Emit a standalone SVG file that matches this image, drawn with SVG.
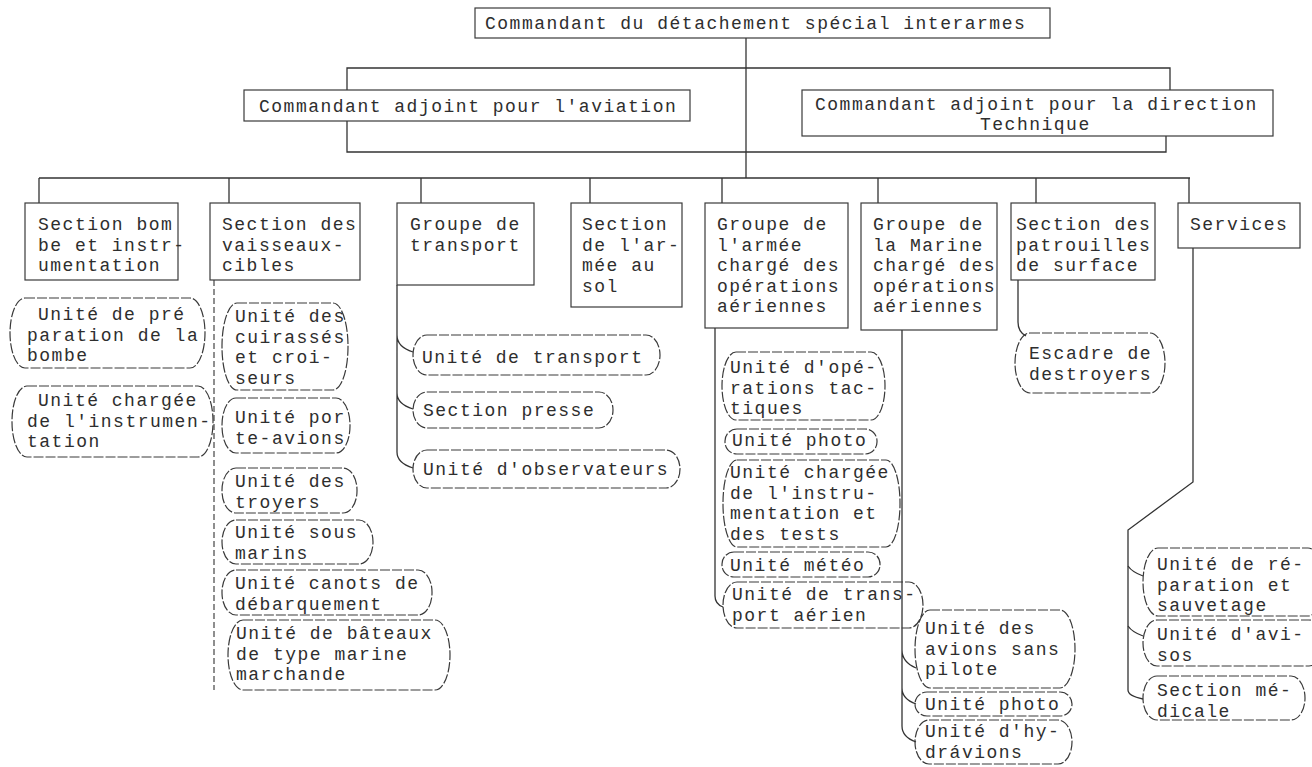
<svg xmlns="http://www.w3.org/2000/svg" width="1312" height="767" viewBox="0 0 1312 767">
  <style>
    .t { font-family: "Liberation Mono", "DejaVu Sans Mono", monospace; font-size: 18px; letter-spacing: 1.5px; fill: #2e2e2e; }
    .box { fill: none; stroke: #3a3a3a; stroke-width: 1.2; }
    .rbox { fill: none; stroke: #3a3a3a; stroke-width: 1.2; stroke-dasharray: 10 2; }
    .ln { fill: none; stroke: #333; stroke-width: 1.3; }
    .dash { fill: none; stroke: #444; stroke-width: 1.2; stroke-dasharray: 6 3; }
  </style>
  <rect width="1312" height="767" fill="#ffffff"/>

  <!-- connectors -->
  <g id="connectors">
    <path class="ln" d="M746,38 V178"/>
    <path class="ln" d="M347,90 V68 H1170 V90"/>
    <path class="ln" d="M347,121 V152 H1166 V136"/>
    <path class="ln" d="M39,178 H1190"/>
    <path class="ln" d="M39,178 V203 M229,178 V203 M421,178 V203 M590,178 V203 M722,178 V203 M878,178 V203 M1036,178 V203 M1189,178 V203"/>
    <!-- section des vaisseaux-cibles -->
    <path class="dash" d="M214,280 V690"/>
    <!-- groupe de transport -->
    <path class="ln" d="M397,285 V335 Q397,347 413,352 M397,335 V393 Q397,404 413,409 M397,393 V452 Q397,463 413,468"/>
    <!-- groupe de l'armée -->
    <path class="ln" d="M715,328 V596 Q715,604 723,607"/>
    <!-- groupe de la Marine -->
    <path class="ln" d="M902,330 V650 Q902,662 916,668 M902,650 V688 Q902,699 916,704 M902,688 V726 Q902,737 916,742"/>
    <!-- section des patrouilles -->
    <path class="ln" d="M1018,280 V322 Q1018,332 1026,336"/>
    <!-- services -->
    <path class="ln" d="M1193,248 V482 L1128,530 V690 Q1128,696 1143,699"/>
    <path class="ln" d="M1128,566 Q1132,572 1143,576 M1128,626 Q1132,632 1143,636"/>
  </g>

  <g id="n-top">
    <rect class="box" x="475" y="8" width="575" height="30"/>
    <text class="t" x="485" y="29">Commandant du détachement spécial interarmes</text>
  </g>
  <g id="n-aviation">
    <rect class="box" x="244" y="90" width="446" height="31"/>
    <text class="t" x="259" y="112">Commandant adjoint pour l'aviation</text>
  </g>
  <g id="n-technique">
    <rect class="box" x="802" y="90" width="471" height="46"/>
    <text class="t" x="815" y="110">Commandant adjoint pour la direction</text>
    <text class="t" x="980" y="130">Technique</text>
  </g>

  <g id="h-bombe">
    <rect class="box" x="25" y="203" width="153" height="77"/>
    <text class="t" x="38" y="230">Section bom</text>
    <text class="t" x="38" y="250.5">be et instr-</text>
    <text class="t" x="38" y="271">umentation</text>
  </g>
  <g id="h-vaisseaux">
    <rect class="box" x="210" y="203" width="150" height="77"/>
    <text class="t" x="222" y="230">Section des</text>
    <text class="t" x="222" y="250.5">vaisseaux-</text>
    <text class="t" x="222" y="271">cibles</text>
  </g>
  <g id="h-transport">
    <rect class="box" x="397" y="203" width="137" height="82"/>
    <text class="t" x="410" y="230">Groupe de</text>
    <text class="t" x="410" y="250.5">transport</text>
  </g>
  <g id="h-armee-sol">
    <rect class="box" x="571" y="203" width="111" height="104"/>
    <text class="t" x="582" y="230">Section</text>
    <text class="t" x="582" y="250.5">de l'ar-</text>
    <text class="t" x="582" y="271">mée au</text>
    <text class="t" x="582" y="291.5">sol</text>
  </g>
  <g id="h-armee-air">
    <rect class="box" x="705" y="203" width="143" height="125"/>
    <text class="t" x="717" y="230">Groupe de</text>
    <text class="t" x="717" y="250.5">l'armée</text>
    <text class="t" x="717" y="271">chargé des</text>
    <text class="t" x="717" y="291.5">opérations</text>
    <text class="t" x="717" y="312">aériennes</text>
  </g>
  <g id="h-marine">
    <rect class="box" x="861" y="203" width="136" height="127"/>
    <text class="t" x="873" y="230">Groupe de</text>
    <text class="t" x="873" y="250.5">la Marine</text>
    <text class="t" x="873" y="271">chargé des</text>
    <text class="t" x="873" y="291.5">opérations</text>
    <text class="t" x="873" y="312">aériennes</text>
  </g>
  <g id="h-patrouilles">
    <rect class="box" x="1011" y="203" width="144" height="77"/>
    <text class="t" x="1016" y="230">Section des</text>
    <text class="t" x="1016" y="250.5">patrouilles</text>
    <text class="t" x="1016" y="271">de surface</text>
  </g>
  <g id="h-services">
    <rect class="box" x="1178" y="203" width="122" height="45"/>
    <text class="t" x="1190" y="230">Services</text>
  </g>

  <g id="u-preparation">
    <rect class="rbox" x="10" y="298" width="195" height="70" rx="15" ry="35"/>
    <text class="t" x="38" y="320">Unité de pré</text>
    <text class="t" x="27" y="340.5">paration de la</text>
    <text class="t" x="27" y="361">bombe</text>
  </g>
  <g id="u-instrumentation">
    <rect class="rbox" x="12" y="386" width="201" height="71" rx="15" ry="35"/>
    <text class="t" x="38" y="406">Unité chargée</text>
    <text class="t" x="27" y="426.5">de l'instrumen-</text>
    <text class="t" x="27" y="447">tation</text>
  </g>

  <g id="u-cuirasses">
    <rect class="rbox" x="222" y="303" width="126" height="87" rx="15" ry="43"/>
    <text class="t" x="235" y="322">Unité des</text>
    <text class="t" x="235" y="342.5">cuirassés</text>
    <text class="t" x="235" y="363">et croi-</text>
    <text class="t" x="235" y="383.5">seurs</text>
  </g>
  <g id="u-porte-avions">
    <rect class="rbox" x="222" y="398" width="128" height="55" rx="14" ry="27"/>
    <text class="t" x="235" y="423">Unité por</text>
    <text class="t" x="235" y="443.5">te-avions</text>
  </g>
  <g id="u-destroyers">
    <rect class="rbox" x="222" y="468" width="135" height="45" rx="14" ry="22"/>
    <text class="t" x="235" y="487">Unité des</text>
    <text class="t" x="235" y="507.5">troyers</text>
  </g>
  <g id="u-sous-marins">
    <rect class="rbox" x="222" y="520" width="151" height="44" rx="14" ry="22"/>
    <text class="t" x="235" y="538">Unité sous</text>
    <text class="t" x="235" y="558.5">marins</text>
  </g>
  <g id="u-canots">
    <rect class="rbox" x="222" y="570" width="210" height="45" rx="14" ry="22"/>
    <text class="t" x="235" y="589">Unité canots de</text>
    <text class="t" x="235" y="609.5">débarquement</text>
  </g>
  <g id="u-bateaux">
    <rect class="rbox" x="228" y="620" width="222" height="70" rx="15" ry="35"/>
    <text class="t" x="236" y="639">Unité de bâteaux</text>
    <text class="t" x="236" y="659.5">de type marine</text>
    <text class="t" x="236" y="680">marchande</text>
  </g>

  <g id="u-transport">
    <rect class="rbox" x="413" y="335" width="247" height="40" rx="14" ry="20"/>
    <text class="t" x="422" y="363">Unité de transport</text>
  </g>
  <g id="u-presse">
    <rect class="rbox" x="413" y="392" width="200" height="36" rx="14" ry="18"/>
    <text class="t" x="423" y="416">Section presse</text>
  </g>
  <g id="u-observateurs">
    <rect class="rbox" x="413" y="450" width="267" height="38" rx="14" ry="19"/>
    <text class="t" x="423" y="475">Unité d'observateurs</text>
  </g>

  <g id="u-operations">
    <rect class="rbox" x="722" y="352" width="163" height="68" rx="14" ry="34"/>
    <text class="t" x="730" y="373">Unité d'opé-</text>
    <text class="t" x="730" y="393.5">rations tac-</text>
    <text class="t" x="730" y="414">tiques</text>
  </g>
  <g id="u-photo-armee">
    <rect class="rbox" x="725" y="429" width="152" height="25" rx="12" ry="12"/>
    <text class="t" x="732" y="446">Unité photo</text>
  </g>
  <g id="u-tests">
    <rect class="rbox" x="723" y="460" width="177" height="87" rx="14" ry="43"/>
    <text class="t" x="730" y="478">Unité chargée</text>
    <text class="t" x="730" y="498.5">de l'instru-</text>
    <text class="t" x="730" y="519">mentation et</text>
    <text class="t" x="730" y="539.5">des tests</text>
  </g>
  <g id="u-meteo">
    <rect class="rbox" x="722" y="552" width="158" height="25" rx="12" ry="12"/>
    <text class="t" x="730" y="571">Unité météo</text>
  </g>
  <g id="u-transport-aerien">
    <rect class="rbox" x="723" y="582" width="200" height="46" rx="14" ry="23"/>
    <text class="t" x="732" y="600">Unité de trans-</text>
    <text class="t" x="732" y="620.5">port aérien</text>
  </g>

  <g id="u-sans-pilote">
    <rect class="rbox" x="915" y="610" width="160" height="78" rx="15" ry="39"/>
    <text class="t" x="925" y="634">Unité des</text>
    <text class="t" x="925" y="654.5">avions sans</text>
    <text class="t" x="925" y="675">pilote</text>
  </g>
  <g id="u-photo-marine">
    <rect class="rbox" x="915" y="692" width="157" height="24" rx="12" ry="12"/>
    <text class="t" x="925" y="710">Unité photo</text>
  </g>
  <g id="u-hydravions">
    <rect class="rbox" x="915" y="720" width="157" height="44" rx="14" ry="22"/>
    <text class="t" x="925" y="737">Unité d'hy-</text>
    <text class="t" x="925" y="757.5">drávions</text>
  </g>

  <g id="u-escadre">
    <rect class="rbox" x="1015" y="333" width="150" height="60" rx="15" ry="30"/>
    <text class="t" x="1029" y="359">Escadre de</text>
    <text class="t" x="1029" y="379.5">destroyers</text>
  </g>

  <g id="u-reparation">
    <rect class="rbox" x="1143" y="548" width="180" height="68" rx="15" ry="34"/>
    <text class="t" x="1157" y="570">Unité de ré-</text>
    <text class="t" x="1157" y="590.5">paration et</text>
    <text class="t" x="1157" y="611">sauvetage</text>
  </g>
  <g id="u-avisos">
    <rect class="rbox" x="1143" y="620" width="180" height="46" rx="14" ry="23"/>
    <text class="t" x="1157" y="640">Unité d'avi-</text>
    <text class="t" x="1157" y="660.5">sos</text>
  </g>
  <g id="u-medicale">
    <rect class="rbox" x="1143" y="676" width="162" height="44" rx="14" ry="22"/>
    <text class="t" x="1157" y="696">Section mé-</text>
    <text class="t" x="1157" y="716.5">dicale</text>
  </g>
</svg>
